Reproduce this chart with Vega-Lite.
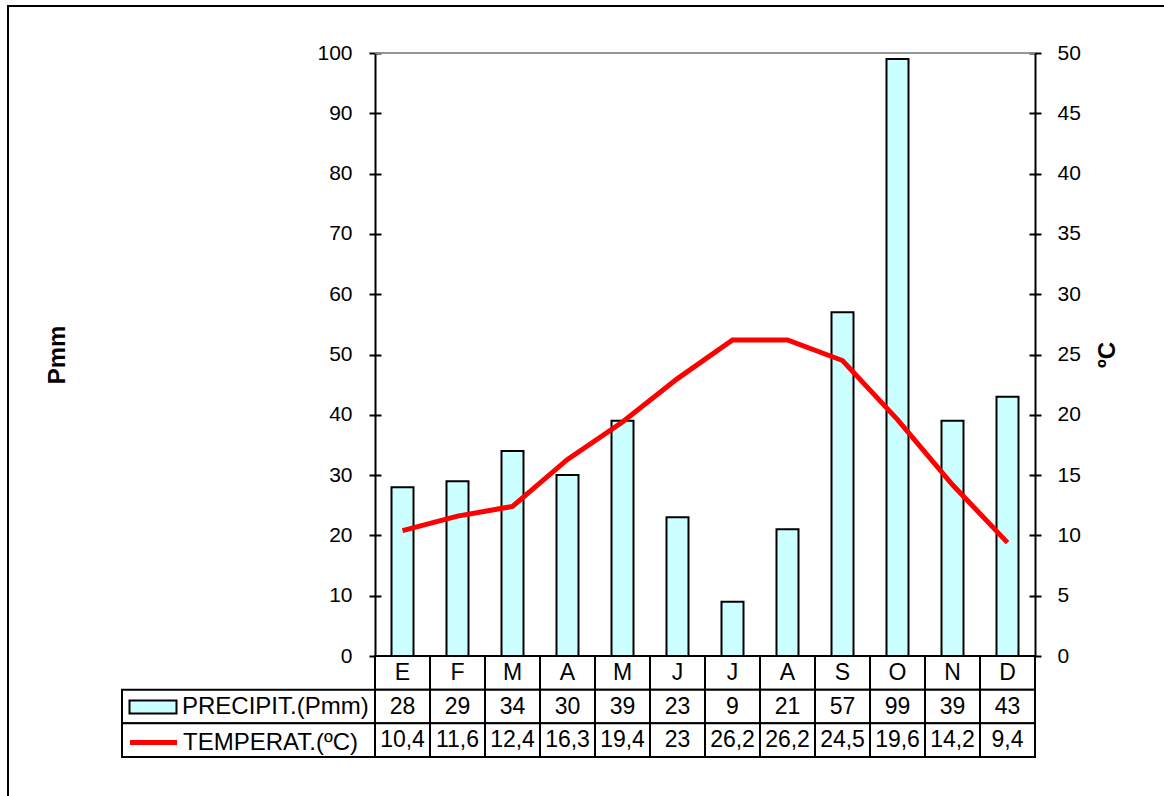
{
  "$schema": "https://vega.github.io/schema/vega-lite/v6.json",
  "width": 1156,
  "height": 790,
  "autosize": {"type": "none"},
  "padding": {"left": 8, "top": 6, "right": 0, "bottom": 0},
  "background": "white",
  "config": {
    "view": {"stroke": "black", "strokeWidth": 2, "strokeDash": [1156, 1946, 790]},
    "font": "Liberation Sans",
    "locale": {"number": {"decimal": ",", "thousands": ".", "grouping": [3], "currency": ["", " €"]}},
    "axis": {
      "labelFont": "Liberation Sans", "labelFontSize": 21, "labelColor": "black",
      "titleFont": "Liberation Sans", "titleFontSize": 24, "titleFontWeight": "bold", "titleColor": "black",
      "domainColor": "black", "domainWidth": 2, "tickColor": "black", "tickWidth": 2, "grid": false
    },
    "legend": {
      "orient": "none", "title": null, "direction": "vertical", "padding": 0,
      "labelFont": "Liberation Sans", "labelFontSize": 24, "labelColor": "black",
      "labelOffset": 17, "labelLimit": 0, "symbolSize": 400, "symbolOpacity": 1
    }
  },
  "datasets": {
    "meses": [
      {"n": 1, "mes": "E", "precip": 28, "temp": 10.4},
      {"n": 2, "mes": "F", "precip": 29, "temp": 11.6},
      {"n": 3, "mes": "M", "precip": 34, "temp": 12.4},
      {"n": 4, "mes": "A", "precip": 30, "temp": 16.3},
      {"n": 5, "mes": "M", "precip": 39, "temp": 19.4},
      {"n": 6, "mes": "J", "precip": 23, "temp": 23},
      {"n": 7, "mes": "J", "precip": 9, "temp": 26.2},
      {"n": 8, "mes": "A", "precip": 21, "temp": 26.2},
      {"n": 9, "mes": "S", "precip": 57, "temp": 24.5},
      {"n": 10, "mes": "O", "precip": 99, "temp": 19.6},
      {"n": 11, "mes": "N", "precip": 39, "temp": 14.2},
      {"n": 12, "mes": "D", "precip": 43, "temp": 9.4}
    ],
    "filas": [
      {"fila": "precip"},
      {"fila": "temp"}
    ]
  },
  "data": {"name": "meses"},
  "resolve": {"scale": {"x": "independent", "y": "independent"}},
  "layer": [
    {
      "mark": {"type": "tick", "color": "#8c8c8c", "thickness": 2, "size": 55},
      "encoding": {
        "x": {"field": "n", "type": "ordinal", "scale": {"range": [367, 1027], "paddingInner": 0, "paddingOuter": 0}, "axis": null},
        "y": {"datum": 100, "type": "quantitative", "scale": {"domain": [0, 100], "range": [650, 47]},
              "axis": {"orient": "left", "offset": -367, "ticks": false, "labels": false, "title": null, "domain": true}}
      }
    },
    {
      "mark": {"type": "tick", "color": "#8c8c8c", "thickness": 2, "size": 55},
      "encoding": {
        "x": {"field": "n", "type": "ordinal", "scale": {"range": [367, 1027], "paddingInner": 0, "paddingOuter": 0}, "axis": null},
        "y": {"datum": 50, "type": "quantitative", "scale": {"domain": [0, 50], "range": [650, 47]},
              "axis": {"orient": "right", "offset": -129, "ticks": false, "labels": false, "title": null, "domain": true}}
      }
    },
    {
      "mark": {"type": "bar", "stroke": "black", "strokeWidth": 2, "width": {"band": 0.4}},
      "encoding": {
        "x": {"field": "n", "type": "ordinal", "scale": {"range": [367, 1027], "paddingInner": 0, "paddingOuter": 0}, "axis": null},
        "y": {"field": "precip", "type": "quantitative", "scale": {"domain": [0, 100], "range": [650, 47]},
              "axis": {"orient": "left", "offset": -373, "values": [0, 10, 20, 30, 40, 50, 60, 70, 80, 90, 100], "tickSize": 12, "labelPadding": 17, "domain": false, "title": "Pmm", "titlePadding": 247}},
        "fill": {
          "datum": "PRECIPIT.(Pmm)",
          "scale": {"domain": ["PRECIPIT.(Pmm)"], "range": ["#CCFFFF"]},
          "legend": {
            "legendX": 133, "legendY": 689,
            "symbolType": "M-2.35,-0.65H2.35V0.65H-2.35Z",
            "symbolStrokeColor": "black", "symbolStrokeWidth": 2
          }
        }
      }
    },
    {
      "mark": {"type": "line", "strokeWidth": 5},
      "encoding": {
        "x": {"field": "n", "type": "ordinal", "scale": {"range": [367, 1027], "paddingInner": 0, "paddingOuter": 0}, "axis": null},
        "y": {"field": "temp", "type": "quantitative", "scale": {"domain": [0, 50], "range": [650, 47]},
              "axis": {"orient": "right", "offset": -135, "values": [0, 5, 10, 15, 20, 25, 30, 35, 40, 45, 50], "tickSize": 12, "labelPadding": 16, "domain": false, "title": "ºC", "titleAngle": -90, "titleBaseline": "top", "titlePadding": 15}},
        "stroke": {
          "datum": "TEMPERAT.(ºC)",
          "scale": {"domain": ["TEMPERAT.(ºC)"], "range": ["#FF0000"]},
          "legend": {
            "legendX": 133, "legendY": 724,
            "symbolType": "M-2.35,0H2.35",
            "symbolStrokeWidth": 5, "symbolFillColor": "transparent"
          }
        }
      }
    },
    {
      "transform": [{"fold": ["mes", "precip", "temp"], "as": ["fila", "valor"]}],
      "mark": {"type": "rect", "fill": "white", "stroke": "black", "strokeWidth": 2},
      "encoding": {
        "x": {"field": "n", "type": "ordinal", "scale": {"range": [367, 1027], "paddingInner": 0, "paddingOuter": 0}, "axis": null},
        "y": {"field": "fila", "type": "nominal", "scale": {"domain": ["mes", "precip", "temp"], "range": [650, 751], "paddingInner": 0, "paddingOuter": 0}, "axis": null}
      }
    },
    {
      "data": {"name": "filas"},
      "mark": {"type": "rect", "fill": "white", "stroke": "black", "strokeWidth": 2},
      "encoding": {
        "x": {"datum": "leyenda", "type": "nominal", "scale": {"domain": ["leyenda"], "range": [114, 367], "paddingInner": 0, "paddingOuter": 0}, "axis": null},
        "y": {"field": "fila", "type": "nominal", "scale": {"domain": ["mes", "precip", "temp"], "range": [650, 751], "paddingInner": 0, "paddingOuter": 0}, "axis": null}
      }
    },
    {
      "mark": {"type": "text", "font": "Liberation Sans", "fontSize": 23, "color": "black", "baseline": "middle"},
      "encoding": {
        "x": {"field": "n", "type": "ordinal", "scale": {"range": [367, 1027], "paddingInner": 0, "paddingOuter": 0}, "axis": null},
        "y": {"datum": "mes", "type": "nominal", "scale": {"domain": ["mes", "precip", "temp"], "range": [650, 751], "paddingInner": 0, "paddingOuter": 0}, "axis": null},
        "text": {"field": "mes", "type": "nominal"}
      }
    },
    {
      "mark": {"type": "text", "font": "Liberation Sans", "fontSize": 23, "color": "black", "baseline": "middle"},
      "encoding": {
        "x": {"field": "n", "type": "ordinal", "scale": {"range": [367, 1027], "paddingInner": 0, "paddingOuter": 0}, "axis": null},
        "y": {"datum": "precip", "type": "nominal", "scale": {"domain": ["mes", "precip", "temp"], "range": [650, 751], "paddingInner": 0, "paddingOuter": 0}, "axis": null},
        "text": {"field": "precip", "type": "nominal"}
      }
    },
    {
      "mark": {"type": "text", "font": "Liberation Sans", "fontSize": 23, "color": "black", "baseline": "middle"},
      "encoding": {
        "x": {"field": "n", "type": "ordinal", "scale": {"range": [367, 1027], "paddingInner": 0, "paddingOuter": 0}, "axis": null},
        "y": {"datum": "temp", "type": "nominal", "scale": {"domain": ["mes", "precip", "temp"], "range": [650, 751], "paddingInner": 0, "paddingOuter": 0}, "axis": null},
        "text": {"field": "temp", "type": "quantitative", "format": "~r"}
      }
    }
  ]
}
